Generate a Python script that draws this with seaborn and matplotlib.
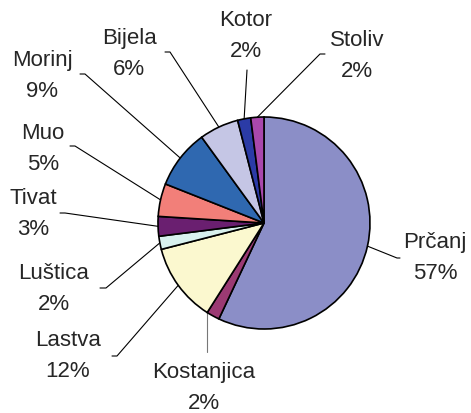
import numpy as np
import matplotlib
matplotlib.use("Agg")
import matplotlib.pyplot as plt
import seaborn as sns

sns.set_style("white")
plt.rcParams['font.family'] = ['Liberation Sans', 'DejaVu Sans']

# data (clockwise from 12 o'clock)
places = ['Prčanj', 'Kostanjica', 'Lastva', 'Luštica', 'Tivat',
          'Muo', 'Morinj', 'Bijela', 'Kotor', 'Stoliv']
shares = [57, 2, 12, 2, 3, 5, 9, 6, 2, 2]
colors = ['#8B8EC7', '#9B3A73', '#FBF8CF', '#D8F1EE', '#6A1F70',
          '#F27F79', '#2F68B0', '#C5C6E5', '#2B3BA6', '#A948AC']

# label layout in pixels (text centre, elbow of the leader line)
text_pos = [(435, 258), (204, 388), (68, 356), (54, 289), (33, 214),
            (43, 149), (42, 76), (129, 54), (246, 36), (357, 56)]
elbows = [(400, 258), (207, 352), (117, 356), (106, 288), (65, 213),
          (75, 146), (85, 74), (170, 52), (247, 70), (325, 54)]
tails = [(397, 258), (207, 352), (112, 356), (100, 288), (60, 213),
         (70, 146), (80, 74), (165, 52), (247, 70), (320, 54)]

W, H = 471, 413
cx, cy, r = 264, H - 223, 106

fig = plt.figure(figsize=(W / 100, H / 100), dpi=100)
ax = fig.add_axes([0, 0, 1, 1])
wedges, _ = ax.pie(shares, colors=colors, startangle=90, counterclock=False,
                   center=(cx, cy), radius=r,
                   wedgeprops=dict(edgecolor='black', linewidth=1.2))

total = sum(shares)
for w, name, v, tp, el, tl in zip(wedges, places, shares, text_pos, elbows, tails):
    mid = np.deg2rad((w.theta1 + w.theta2) / 2)
    ex, ey = cx + r * np.cos(mid), cy + r * np.sin(mid)
    if name == 'Kostanjica':
        # vertical leader straight down from the rim
        ex = tl[0]
        ey = cy - np.sqrt(r ** 2 - (ex - cx) ** 2)
    # leader: pie edge -> bend -> short horizontal towards text
    if tl[0] < tp[0]:
        pts = [(ex, ey), (tl[0], H - tl[1]), (el[0], H - el[1])]
    else:
        pts = [(ex, ey), (el[0], H - el[1]), (tl[0], H - tl[1])]
    xs, ys = zip(*pts)
    lc = '#777777' if name == 'Kostanjica' else 'black'
    ax.plot(xs, ys, color=lc, linewidth=0.8, zorder=0)
    ax.text(tp[0], H - tp[1], f"{name}\n{round(100 * v / total)}%",
            ha='center', va='center', multialignment='center',
            fontsize=16, linespacing=1.63)

ax.set_xlim(0, W)
ax.set_ylim(0, H)
ax.set_aspect('equal')
ax.axis('off')
fig.savefig('out.png', dpi=100, facecolor='white')
